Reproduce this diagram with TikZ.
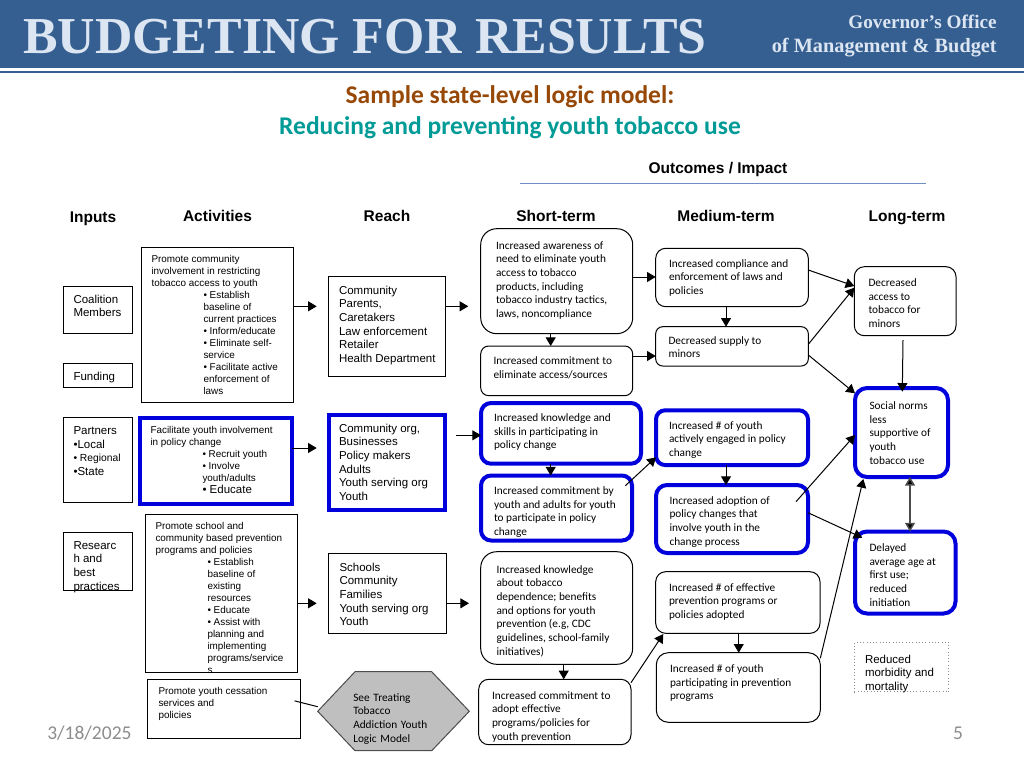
\documentclass[tikz,border=0pt]{standalone}
\usepackage{fontspec}
\usetikzlibrary{arrows.meta}
\setmainfont{Liberation Sans}
\newfontfamily\serifhead{Liberation Serif}
\newfontfamily\calb{Carlito}
\newdimen\px \px=0.75pt
\definecolor{hdr}{HTML}{365F91}
\definecolor{hdrtxt}{HTML}{DCE6F2}
\definecolor{bluebox}{HTML}{0000DD}
\definecolor{brownt}{HTML}{974806}
\definecolor{tealt}{HTML}{009B96}
\definecolor{rulec}{HTML}{6F8FC4}
\definecolor{footg}{HTML}{8C8C8C}
\definecolor{hexg}{HTML}{BFBFBF}
\newcommand\fsz[2]{\fontsize{#1\px}{#2\px}\selectfont}
\tikzset{
 ar/.style={font=\fsz{9.9}{12}},
 arb/.style={font=\fsz{11.5}{13.7}},
 cb/.style={font=\calb\fsz{11.3}{13.7}},
 sq/.style={draw=black,line width=1\px},
 rr/.style={draw=black,line width=1\px,rounded corners=#1\px},
 bsq/.style={draw=bluebox,line width=4\px},
 brr/.style={draw=bluebox,line width=4\px,rounded corners=#1\px},
 conn/.style={line width=1\px,draw=black,-{Triangle[length=6.5pt,width=7.5pt]}},
 plainconn/.style={line width=1\px,draw=black},
 head/.style={font=\bfseries\fsz{15.5}{16},anchor=base},
}
\newcommand\ind{\hspace*{52\px}}
\newcommand\bx[9]{%
 \pgfmathsetlengthmacro\bw{(#5-#3)*0.75}%
 \pgfmathsetlengthmacro\bh{(#6-#4)*0.75}%
 \pgfmathsetlengthmacro\bl{(#7-#3)*0.75}%
 \pgfmathsetlengthmacro\bt{(#8-#4-10)*0.75}%
 \node[#1,anchor=north west,inner sep=0pt,outer sep=0pt] (#2) at (#3,#4) {\begin{minipage}[c][\bh][t]{\bw}\parindent=0pt\leftskip=\bl\rightskip=-200pt\parfillskip=0pt plus 1fil\vspace*{\bt}\rule{0pt}{10\px}#9\end{minipage}};}
\begin{document}
\begin{tikzpicture}[x=0.75pt,y=-0.75pt]
\useasboundingbox (0,0) rectangle (1024,768);
% header
\fill[hdr] (0,0) rectangle (1024,68);
\fill[hdr] (0,71) rectangle (1024,72.5);
\node[anchor=base west,inner sep=0,text=hdrtxt,font=\serifhead\bfseries\fsz{51.8}{53}] (title) at (23,53) {BUDGETING FOR RESULTS};
\node[anchor=base east,inner sep=0,text=hdrtxt,font=\serifhead\bfseries\fsz{19.2}{19}] (gov1) at (997,28) {Governor’s Office};
\node[anchor=base east,inner sep=0,text=hdrtxt,font=\serifhead\bfseries\fsz{20.3}{20}] (gov2) at (997,52) {of Management \& Budget};
% titles
\node[anchor=base,inner sep=0,text=brownt,font=\calb\bfseries\fsz{25.5}{26}] (t1) at (510,103) {Sample state-level logic model:};
\node[anchor=base,inner sep=0,text=tealt,font=\calb\bfseries\fsz{25.5}{26}] (t2) at (510,134) {Reducing and preventing youth tobacco use};
\node[anchor=base,inner sep=0,font=\bfseries\fsz{15.5}{16}] (oi) at (718,173) {Outcomes / Impact};
\coordinate (rl) at (520,183.5); \coordinate (rr) at (926,183.5);
\draw[rulec,line width=1.2\px] (rl) -- (rr);
% column heads
\node[head] (hin) at (93,222) {Inputs};
\node[head] (hact) at (217.5,221) {Activities};
\node[head] (hre) at (387,221) {Reach};
\node[head] (hst) at (556,221) {Short-term};
\node[head] (hme) at (726,221) {Medium-term};
\node[head] (hlo) at (907,221) {Long-term};
% inputs
\bx{sq,arb}{coal}{63.5}{286.5}{132.5}{333}{73.5}{303}{Coalition\\Members}
\bx{sq,arb}{fund}{63.5}{363.5}{132.5}{387}{73.5}{380.5}{Funding}
\bx{sq,arb}{part}{63.5}{417.5}{132.5}{502.5}{73.5}{434.5}{Partners\\•Local\\{\fsz{10.3}{13.7}• Regional}\\•State}
\bx{sq,arb}{res}{63.5}{532.7}{132.5}{590}{73.5}{549}{Researc\\h and\\best\\practices}
% activities
\bx{sq,ar}{act1}{141.5}{247.5}{293.5}{402}{151.5}{262}{Promote community\\involvement in restricting\\tobacco access to youth\\\ind • Establish\\\ind baseline of\\\ind current practices\\\ind • Inform/educate\\\ind • Eliminate self-\\\ind service\\\ind • Facilitate active\\\ind enforcement of\\\ind laws}
\bx{bsq,ar}{act2}{140}{418}{292}{504}{150.5}{433}{Facilitate youth involvement\\in policy change\\\ind • Recruit youth\\\ind • Involve\\\ind youth/adults\\\ind {\fsz{11.5}{12}• Educate}}
\bx{sq,ar}{act3}{145.3}{514.3}{297.7}{672}{155.5}{529}{Promote school and\\community based prevention\\programs and policies\\\ind • Establish\\\ind baseline of\\\ind existing\\\ind resources\\\ind • Educate\\\ind • Assist with\\\ind planning and\\\ind implementing\\\ind programs/service\\\ind s}
\bx{sq,ar}{act4}{147.7}{679.3}{300.3}{738.7}{158.5}{694.5}{Promote youth cessation\\services and\\policies}
% reach
\bx{sq,arb}{rea1}{328}{276.5}{445.5}{376}{339}{294}{Community\\Parents,\\Caretakers\\Law enforcement\\Retailer\\Health Department}
\bx{bsq,arb}{rea2}{329}{415}{445}{510}{339}{432}{Community org,\\Businesses\\Policy makers\\Adults\\Youth serving org\\Youth}
\bx{sq,arb}{rea3}{328.7}{553.7}{446.3}{633.3}{339.5}{571}{Schools\\Community\\Families\\Youth serving org\\Youth}
% hexagon
\fill[hexg,draw=black!70,line width=1\px] (317.7,711.3) -- (355,671.7) -- (431.7,671.7) -- (469.3,711.3) -- (431.7,750.7) -- (355,750.7) -- cycle;
\node[cb,anchor=north west,inner sep=0,align=left,text width=105\px] (hex) at (353,693) {See Treating\\Tobacco\\Addiction Youth\\Logic Model};
\coordinate (hexl) at (317.7,706.7);
% short term
\bx{rr=16,cb}{s1}{480.7}{228.7}{632.7}{333.7}{496}{249}{Increased awareness of\\need to eliminate youth\\access to tobacco\\products, including\\tobacco industry tactics,\\laws, noncompliance}
\bx{rr=8,cb}{s2}{480.7}{346}{632.7}{395.7}{493.5}{364.5}{Increased commitment to\\eliminate access/sources}
\bx{brr=10,cb}{s3}{481}{403}{641}{463.7}{494}{421.5}{Increased knowledge and\\skills in participating in\\policy change}
\bx{brr=10,cb}{s4}{481}{475.5}{632}{540.5}{494}{494.5}{Increased commitment by\\youth and adults for youth\\to participate in policy\\change}
\bx{rr=16,cb}{s5}{480.7}{551.7}{632.7}{664.3}{496.5}{573}{Increased knowledge\\about tobacco\\dependence; benefits\\and options for youth\\prevention (e.g, CDC\\guidelines, school-family\\initiatives)}
\bx{rr=10,cb}{s6}{478.7}{679.3}{631}{744.7}{492}{699}{Increased commitment to\\adopt effective\\programs/policies for\\youth prevention}
% medium
\bx{rr=10,cb}{m1}{655.7}{248.3}{808.3}{306.7}{669}{267}{Increased compliance and\\enforcement of laws and\\policies}
\bx{rr=7,cb}{m2}{655.7}{326.7}{808.3}{366}{668.5}{344}{Decreased supply to\\minors}
\bx{brr=9,cb}{m3}{656}{410.3}{808}{465}{669}{429}{Increased \# of youth\\actively engaged in policy\\change}
\bx{brr=11,cb}{m4}{656}{485}{808}{553}{669.5}{504}{Increased adoption of\\policy changes that\\involve youth in the\\change process}
\bx{rr=10,cb}{m5}{655.7}{571.7}{820}{633.3}{669}{591}{Increased \# of effective\\prevention programs or\\policies adopted}
\bx{rr=12,cb}{m6}{656.3}{652.7}{820.3}{722.3}{670}{672.5}{Increased \# of youth\\participating in prevention\\programs}
% long
\bx{rr=10,cb}{l1}{854.3}{266.7}{956}{335.7}{868.5}{286.5}{Decreased\\access to\\tobacco for\\minors}
\bx{brr=12,cb}{l2}{855}{388}{948}{477}{869.5}{409.5}{Social norms\\less\\supportive of\\youth\\tobacco use}
\bx{brr=12,cb}{l3}{855}{531.5}{955.5}{613.5}{869.5}{551.5}{Delayed\\average age at\\first use;\\reduced\\initiation}
\bx{draw=black!45,line width=0.6\px,dotted,arb}{l4}{854.3}{642.3}{948.7}{691.7}{865}{663}{Reduced\\morbidity and\\mortality}
% footer
\node[anchor=base west,inner sep=0,text=footg,font=\calb\fsz{19.5}{20}] (date) at (47,739) {3/18/2025};
\node[anchor=base,inner sep=0,text=footg,font=\calb\fsz{19.5}{20}] (pg) at (958,739) {5};
% connectors
\draw[conn,shorten >=11.3\px] (act1.east |- 0,306.3) -- (rea1.west |- 0,306.3);
\draw[conn,shorten >=12.4\px] (rea1.east |- 0,306.3) -- (s1.west |- 0,306.3);
\draw[conn,shorten >=12.3\px] (act2.east |- 0,448) -- (rea2.west |- 0,448);
\draw[conn,shorten <=11\px] (rea2.east |- 0,435.3) -- (s3.west |- 0,435.3);
\draw[conn,shorten >=12\px] (act3.east |- 0,603.3) -- (rea3.west |- 0,603.3);
\draw[conn,shorten >=11.7\px] (rea3.east |- 0,603.3) -- (s5.west |- 0,603.3);
\draw[plainconn,shorten <=-6\px] (act4.east |- 0,702.3) -- (hexl);
\draw[conn] (s1.south -| 550.7,0) -- (s2.north -| 550.7,0);
\draw[conn] (s1.east |- 0,277) -- (m1.west |- 0,277);
\draw[conn] (s2.east |- 0,356) -- (m2.west |- 0,356);
\draw[conn] (m1.south -| 726,0) -- (m2.north -| 726,0);
\draw[conn] (s3.south -| 550.7,0) -- (s4.north -| 550.7,0);
\draw[conn] (s4.east |- 0,485.7) ++(-6.7,0) -- (m3.west |- 0,457.3);
\draw[conn] (m3.south -| 726,0) -- (m4.north -| 726,0);
\draw[conn] (s5.south -| 563.7,0) -- (s6.north -| 563.7,0);
\draw[conn] (s6.east |- 0,682.7) -- (663.3,634);
\draw[conn] (m5.south -| 738.7,0) -- (m6.north -| 738.7,0);
\draw[conn] (m1.east |- 0,270) -- (l1.west |- 0,286);
\draw[conn] (m2.east |- 0,344.3) -- (l1.west |- 0,287.7);
\draw[conn] (m2.east |- 0,355) -- (l2.west |- 0,393.3);
\draw[conn] (l1.south -| 903,0) ++(0,4.3) -- (902.3,391.7);
\draw[conn] (m4.east |- 0,501.7) ++(-12,0) -- (l2.west |- 0,435);
\draw[conn] (m4.east |- 0,512.7) -- (862.3,537.7);
\draw[conn] (m6.east |- 0,658.3) -- (863.3,479);
\draw[line width=1.5\px,draw=black!70,{Triangle[length=6.5pt,width=7.5pt,fill=black]}-{Triangle[length=6.5pt,width=7.5pt,fill=black]}] (l2.south -| 910,0) -- (l3.north -| 910,0);
\end{tikzpicture}
\end{document}
